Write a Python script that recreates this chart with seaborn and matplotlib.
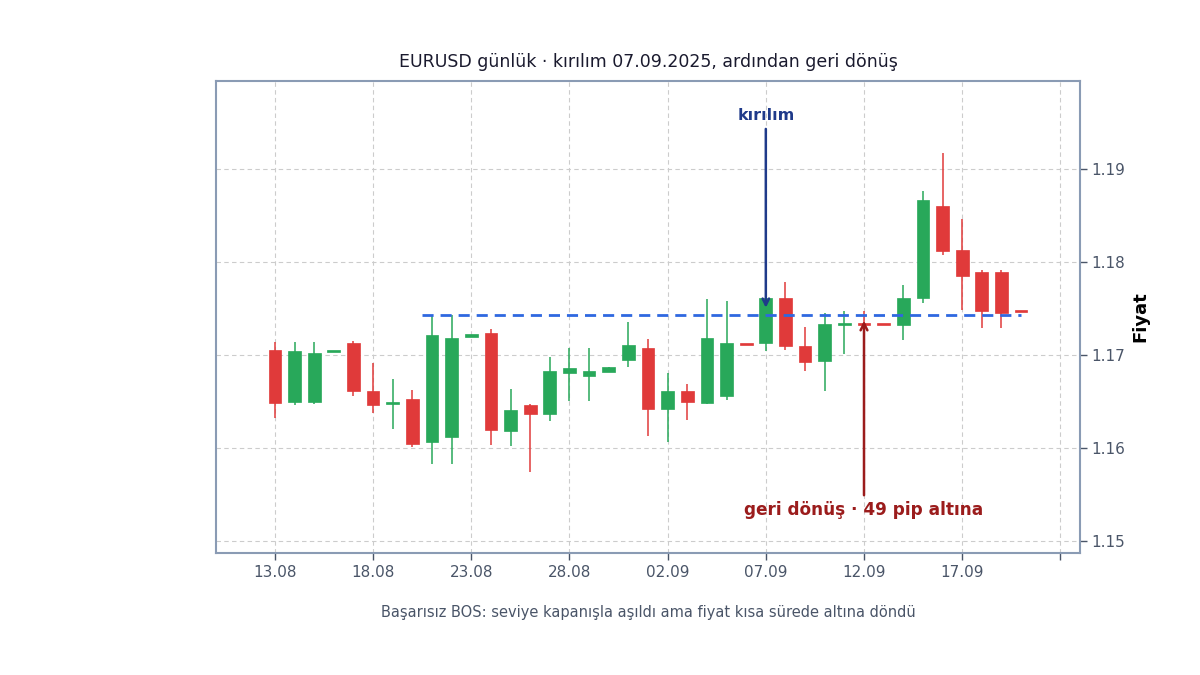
import pandas as pd
import matplotlib
matplotlib.use("Agg")
import matplotlib.pyplot as plt
import matplotlib.dates as mdates
import seaborn as sns

# daily EURUSD candles, 13.08.2025 - 20.09.2025
dates = pd.date_range("2025-08-13", "2025-09-20", freq="D")
opens = [1.1705, 1.1649, 1.1650, 1.1703, 1.1713, 1.1661, 1.1647, 1.1653, 1.1606, 1.1612,
         1.1720, 1.1724, 1.1618, 1.1646, 1.1637, 1.1681, 1.1678, 1.1682, 1.1695, 1.1708,
         1.1642, 1.1661, 1.1648, 1.1656, 1.1711, 1.1713, 1.1761, 1.1710, 1.1694, 1.1732,
         1.1733, 1.1732, 1.1732, 1.1762, 1.1861, 1.1813, 1.1789, 1.1789, 1.1746]
highs = [1.1714, 1.1714, 1.1714, 1.1703, 1.1715, 1.1692, 1.1674, 1.1662, 1.1743, 1.1743,
         1.1720, 1.1728, 1.1664, 1.1647, 1.1698, 1.1708, 1.1708, 1.1687, 1.1736, 1.1717,
         1.1681, 1.1669, 1.1760, 1.1758, 1.1711, 1.1763, 1.1779, 1.1730, 1.1745, 1.1747,
         1.1748, 1.1732, 1.1775, 1.1877, 1.1918, 1.1847, 1.1792, 1.1792, 1.1746]
lows = [1.1632, 1.1646, 1.1647, 1.1703, 1.1656, 1.1638, 1.1621, 1.1601, 1.1583, 1.1583,
        1.1720, 1.1603, 1.1602, 1.1574, 1.1629, 1.1651, 1.1651, 1.1682, 1.1687, 1.1613,
        1.1607, 1.1630, 1.1647, 1.1652, 1.1711, 1.1704, 1.1705, 1.1683, 1.1661, 1.1701,
        1.1731, 1.1732, 1.1716, 1.1756, 1.1808, 1.1749, 1.1729, 1.1729, 1.1746]
closes = [1.1648, 1.1704, 1.1702, 1.1703, 1.1661, 1.1646, 1.1649, 1.1604, 1.1722, 1.1718,
          1.1720, 1.1619, 1.1641, 1.1637, 1.1683, 1.1686, 1.1683, 1.1687, 1.1711, 1.1642,
          1.1661, 1.1650, 1.1718, 1.1713, 1.1711, 1.1762, 1.1710, 1.1693, 1.1734, 1.1734,
          1.1732, 1.1732, 1.1761, 1.1867, 1.1812, 1.1785, 1.1747, 1.1745, 1.1746]
flat_up = [3, 10]  # flat candles drawn green

level = 1.1743
level_start = pd.Timestamp("2025-08-20 12:00")
level_end = pd.Timestamp("2025-09-20 00:00")
break_date = pd.Timestamp("2025-09-07")
return_date = pd.Timestamp("2025-09-12")

tick_dates = pd.date_range("2025-08-13", "2025-09-22", freq="5D")
tick_labels = [d.strftime("%d.%m") for d in tick_dates[:-1]] + [""]

df = pd.DataFrame({"date": dates, "open": opens, "high": highs, "low": lows, "close": closes})

sns.set_theme(style="whitegrid")
plt.rcParams["font.family"] = ["DejaVu Sans"]

green = "#28a85a"
red = "#e03a3a"

fig = plt.figure(figsize=(12, 6.75), dpi=100)
ax = fig.add_axes([0.18, 0.1807, 0.72, 0.6993])

cols = []
for i, r in df.iterrows():
    if r["close"] > r["open"] or i in flat_up:
        cols.append(green)
    else:
        cols.append(red)
df["color"] = cols
df["body_lo"] = df[["open", "close"]].min(axis=1)
df["body_h"] = (df["open"] - df["close"]).abs().clip(lower=0.00025)

x = mdates.date2num(df["date"])
ax.vlines(x, df["low"], df["high"], colors=df["color"], linewidth=1.1, zorder=2)
ax.bar(x, df["body_h"], bottom=df["body_lo"], width=0.65, color=df["color"],
       edgecolor=df["color"], linewidth=0.5, zorder=3)

# broken level
lvl = pd.DataFrame({"date": [level_start, level_end], "price": [level, level]})
sns.lineplot(data=lvl, x="date", y="price", ax=ax, color="#2f68e0", linewidth=2,
             linestyle=(0, (4, 2.5)), zorder=4)

ax.annotate("kırılım", xy=(break_date, level + 0.0005), xytext=(break_date, 1.1958),
            ha="center", va="center", fontsize=11.5, fontweight="bold", color="#1f3a8a",
            arrowprops=dict(arrowstyle="->", color="#1f3a8a", lw=1.8), zorder=5)
ax.annotate("geri dönüş · 49 pip altına", xy=(return_date, level - 0.0003),
            xytext=(return_date, 1.1533), ha="center", va="center", fontsize=12.2,
            fontweight="bold", color="#9b1c1c",
            arrowprops=dict(arrowstyle="->", color="#9b1c1c", lw=1.8), zorder=5)

ax.set_xlim(dates[0] - pd.Timedelta(days=3), dates[-1] + pd.Timedelta(days=3))
ax.set_ylim(1.1487, 1.1995)
ax.set_xticks(tick_dates)
ax.set_xticklabels(tick_labels)
ax.set_yticks([1.15, 1.16, 1.17, 1.18, 1.19])
ax.set_yticklabels(["1.15", "1.16", "1.17", "1.18", "1.19"])

ax.yaxis.tick_right()
ax.yaxis.set_label_position("right")
ax.set_ylabel("Fiyat", fontsize=13, fontweight="bold", color="black", labelpad=4)
ax.set_xlabel("")
ax.tick_params(axis="both", labelsize=11, colors="#4a5568", length=5, width=1,
               direction="out", bottom=True, right=True, left=False)

ax.grid(True, linestyle=(0, (4, 3)), color="#cccccc", linewidth=0.8)
ax.set_facecolor("white")
for s in ax.spines.values():
    s.set_visible(True)
    s.set_color("#8a9bb4")
    s.set_linewidth(1.5)

ax.set_title("EURUSD günlük · kırılım 07.09.2025, ardından geri dönüş",
             fontsize=12.5, color="#1a1a2e", pad=10)
fig.text(0.54, 0.0933, "Başarısız BOS: seviye kapanışla aşıldı ama fiyat kısa sürede altına döndü",
         ha="center", va="center", fontsize=10.5, color="#4a5568")

fig.savefig("out.png", dpi=100, facecolor="white")
